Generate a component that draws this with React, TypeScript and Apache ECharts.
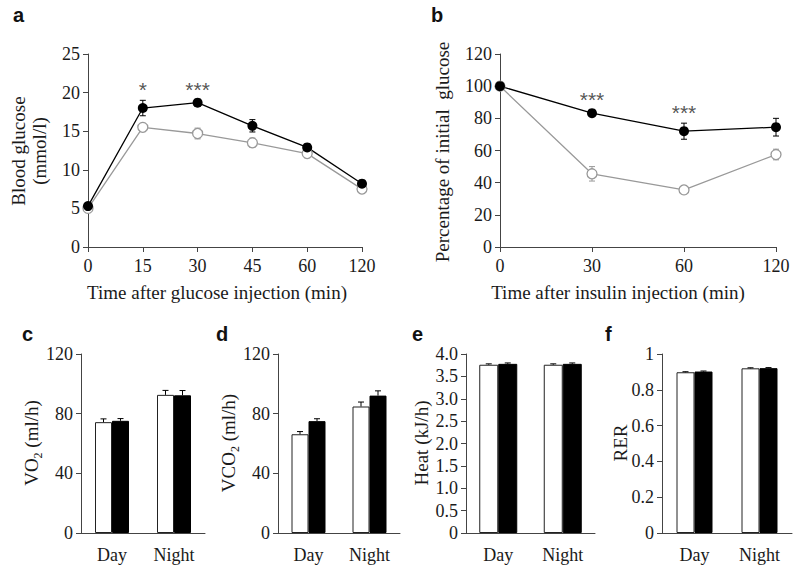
import React, { useEffect, useRef } from "react";
import * as echarts from "echarts";

// ---------- Data ----------
const catsA = ["0", "15", "30", "45", "60", "120"];
const filledA = [5.3, 18.0, 18.7, 15.7, 12.9, 8.2];
const filledAErr = [0.3, 1.0, 0.4, 0.8, 0.4, 0.3];
const openA = [5.0, 15.5, 14.7, 13.5, 12.1, 7.5];
const openAErr = [0.2, 0.4, 0.7, 0.6, 0.3, 0.2];
const sigA = ["", "*", "***", "", "", ""];

const catsB = ["0", "30", "60", "120"];
const filledB = [100, 83.2, 72.0, 74.5];
const filledBErr = [0.8, 2.0, 5.0, 5.5];
const openB = [100, 45.5, 35.5, 57.5];
const openBErr = [0.8, 4.5, 1.0, 3.3];
const sigB = ["", "***", "***", ""];

const barCats = ["Day", "Night"];
const vo2Open = [74.3, 92.6];
const vo2OpenErr = [2.2, 3.0];
const vo2Filled = [75.2, 92.3];
const vo2FilledErr = [1.5, 3.2];

const vco2Open = [66.2, 84.8];
const vco2OpenErr = [1.8, 3.0];
const vco2Filled = [75.0, 92.1];
const vco2FilledErr = [1.6, 3.2];

const heatOpen = [3.76, 3.76];
const heatOpenErr = [0.02, 0.02];
const heatFilled = [3.78, 3.78];
const heatFilledErr = [0.02, 0.02];

const rerOpen = [0.898, 0.92];
const rerOpenErr = [0.003, 0.003];
const rerFilled = [0.902, 0.921];
const rerFilledErr = [0.003, 0.003];

const titlesY = ["Blood glucose\n(mmol/l)", "Percentage of initial  glucose", "VO{sub|2} (ml/h)", "VCO{sub|2} (ml/h)", "Heat (kJ/h)", "RER"];
const titlesX = ["Time after glucose injection (min)", "Time after insulin injection (min)"];
const panelLetters = ["a", "b", "c", "d", "e", "f"];

// ---------- Styles ----------
const SERIF = "Liberation Serif";
const SANS = "Liberation Sans";
const AXIS = "#444444";
const GRAY = "#999999";
const TXT = "#1a1a1a";

function errSeries(
  xi: number,
  means: number[],
  errs: number[],
  color: string,
  offset: number,
  upOnly: boolean,
  z: number
) {
  return {
    type: "custom",
    xAxisIndex: xi,
    yAxisIndex: xi,
    z,
    silent: true,
    encode: { x: 0, y: [1, 2] },
    data: means.map((m, i) => [i, upOnly ? m : m - errs[i], m + errs[i]]),
    renderItem: (_p: any, api: any) => {
      const lo = api.coord([api.value(0), api.value(1)]);
      const hi = api.coord([api.value(0), api.value(2)]);
      const x = lo[0] + offset;
      const cw = 3;
      const st = { stroke: color, lineWidth: 1 };
      const ch: any[] = [
        { type: "line", shape: { x1: x, y1: lo[1], x2: x, y2: hi[1] }, style: st },
        { type: "line", shape: { x1: x - cw, y1: hi[1], x2: x + cw, y2: hi[1] }, style: st },
      ];
      if (!upOnly)
        ch.push({ type: "line", shape: { x1: x - cw, y1: lo[1], x2: x + cw, y2: lo[1] }, style: st });
      return { type: "group", children: ch };
    },
  };
}

function sigSeries(xi: number, sig: string[], means: number[], errs: number[]) {
  return {
    type: "scatter",
    xAxisIndex: xi,
    yAxisIndex: xi,
    symbolSize: 0,
    silent: true,
    z: 5,
    data: sig
      .map((s, i) => (s ? { value: [i, means[i] + errs[i]], label: { formatter: s } } : null))
      .filter(Boolean),
    label: {
      show: true,
      position: "top",
      distance: 0,
      fontSize: 21,
      fontFamily: SANS,
      color: "#2a2a2a",
    },
  };
}

function lineSeries(xi: number, data: number[], filled: boolean) {
  return {
    type: "line",
    xAxisIndex: xi,
    yAxisIndex: xi,
    data,
    z: 3,
    symbol: "circle",
    symbolSize: 10,
    lineStyle: { color: filled ? "#000" : GRAY, width: 1.3 },
    itemStyle: filled
      ? { color: "#000", borderColor: "#000", borderWidth: 0 }
      : { color: "#fff", borderColor: GRAY, borderWidth: 1.3 },
  };
}

function barSeries(xi: number, data: number[], filled: boolean, bw: number) {
  return {
    type: "bar",
    xAxisIndex: xi,
    yAxisIndex: xi,
    data,
    barWidth: bw,
    barGap: "0%",
    z: 2,
    itemStyle: filled
      ? { color: "#000", borderColor: "#000", borderWidth: 1 }
      : { color: "#fff", borderColor: "#222", borderWidth: 1 },
  };
}

function catAxis(gi: number, cats: string[], lineChart: boolean) {
  return {
    type: "category",
    gridIndex: gi,
    data: cats,
    boundaryGap: !lineChart,
    axisLine: { lineStyle: { color: AXIS, width: 1 } },
    axisTick: { show: lineChart, length: 5, alignWithLabel: true, lineStyle: { color: AXIS } },
    axisLabel: {
      interval: 0,
      fontFamily: SERIF,
      fontSize: 18,
      color: TXT,
      margin: lineChart ? 10 : 13,
    },
  };
}

function valAxis(gi: number, max: number, interval: number, fmt?: (v: number) => string) {
  return {
    type: "value",
    gridIndex: gi,
    min: 0,
    max,
    interval,
    splitLine: { show: false },
    axisLine: { show: true, lineStyle: { color: AXIS, width: 1 } },
    axisTick: { show: true, length: 5, lineStyle: { color: AXIS } },
    axisLabel: {
      fontFamily: SERIF,
      fontSize: 18,
      color: TXT,
      margin: 8,
      formatter: fmt || ((v: number) => String(v)),
    },
  };
}

const subRich = {
  sub: { fontFamily: SERIF, fontSize: 12, fill: TXT, verticalAlign: "bottom", lineHeight: 26 },
};

export default function App() {
  const ref = useRef<HTMLDivElement>(null);
  useEffect(() => {
    if (!ref.current) return;
    const chart = echarts.init(ref.current, null, { renderer: "svg" });
    const bw = [17, 17, 19, 18];
    const yTitlePos = [
      [28.5, 151],
      [442, 152],
      [31, 443],
      [228, 443],
      [421, 443],
      [620, 443],
    ];
    const xTitlePos = [
      [217, 292],
      [618, 292],
    ];
    const letterPos = [
      [13, 5],
      [431, 5],
      [22, 324],
      [216, 324],
      [412, 324],
      [605, 324],
    ];
    const graphic: any[] = [];
    titlesY.forEach((t, i) =>
      graphic.push({
        type: "text",
        x: yTitlePos[i][0],
        y: yTitlePos[i][1],
        rotation: Math.PI / 2,
        silent: true,
        style: {
          text: t,
          fontFamily: SERIF,
          fontSize: 19,
          lineHeight: 21,
          fill: TXT,
          align: "center",
          verticalAlign: "middle",
          rich: subRich,
        },
      })
    );
    titlesX.forEach((t, i) =>
      graphic.push({
        type: "text",
        x: xTitlePos[i][0],
        y: xTitlePos[i][1],
        silent: true,
        style: {
          text: t,
          fontFamily: SERIF,
          fontSize: 19,
          fill: TXT,
          align: "center",
          verticalAlign: "middle",
        },
      })
    );
    panelLetters.forEach((t, i) =>
      graphic.push({
        type: "text",
        left: letterPos[i][0],
        top: letterPos[i][1],
        silent: true,
        style: { text: t, fontFamily: SANS, fontWeight: "bold", fontSize: 20, fill: "#111" },
      })
    );

    const option: any = {
      animation: false,
      backgroundColor: "#fff",
      grid: [
        { left: 88, top: 54, width: 274, height: 193 },
        { left: 500, top: 54, width: 276, height: 193 },
        { left: 81, top: 354, width: 124, height: 179 },
        { left: 278, top: 354, width: 122, height: 179 },
        { left: 466, top: 354, width: 129, height: 179 },
        { left: 662, top: 354, width: 130, height: 179 },
      ],
      xAxis: [
        catAxis(0, catsA, true),
        catAxis(1, catsB, true),
        catAxis(2, barCats, false),
        catAxis(3, barCats, false),
        catAxis(4, barCats, false),
        catAxis(5, barCats, false),
      ],
      yAxis: [
        valAxis(0, 25, 5),
        valAxis(1, 120, 20),
        valAxis(2, 120, 40),
        valAxis(3, 120, 40),
        valAxis(4, 4, 0.5, (v: number) => (v === 0 ? "0" : v.toFixed(1))),
        valAxis(5, 1, 0.2, (v: number) => (v === 0 ? "0" : String(+v.toFixed(1)))),
      ],
      series: [
        // panel a
        errSeries(0, openA, openAErr, GRAY, 0, false, 1),
        errSeries(0, filledA, filledAErr, "#000", 0, false, 1),
        lineSeries(0, openA, false),
        lineSeries(0, filledA, true),
        sigSeries(0, sigA, filledA, filledAErr),
        // panel b
        errSeries(1, openB, openBErr, GRAY, 0, false, 1),
        errSeries(1, filledB, filledBErr, "#000", 0, false, 1),
        lineSeries(1, openB, false),
        lineSeries(1, filledB, true),
        sigSeries(1, sigB, filledB, filledBErr),
        // panel c
        barSeries(2, vo2Open, false, bw[0]),
        barSeries(2, vo2Filled, true, bw[0]),
        errSeries(2, vo2Open, vo2OpenErr, "#000", -bw[0] / 2, true, 4),
        errSeries(2, vo2Filled, vo2FilledErr, "#000", bw[0] / 2, true, 4),
        // panel d
        barSeries(3, vco2Open, false, bw[1]),
        barSeries(3, vco2Filled, true, bw[1]),
        errSeries(3, vco2Open, vco2OpenErr, "#000", -bw[1] / 2, true, 4),
        errSeries(3, vco2Filled, vco2FilledErr, "#000", bw[1] / 2, true, 4),
        // panel e
        barSeries(4, heatOpen, false, bw[2]),
        barSeries(4, heatFilled, true, bw[2]),
        errSeries(4, heatOpen, heatOpenErr, "#000", -bw[2] / 2, true, 4),
        errSeries(4, heatFilled, heatFilledErr, "#000", bw[2] / 2, true, 4),
        // panel f
        barSeries(5, rerOpen, false, bw[3]),
        barSeries(5, rerFilled, true, bw[3]),
        errSeries(5, rerOpen, rerOpenErr, "#000", -bw[3] / 2, true, 4),
        errSeries(5, rerFilled, rerFilledErr, "#000", bw[3] / 2, true, 4),
      ],
      graphic,
    };
    chart.setOption(option);
    return () => chart.dispose();
  }, []);
  return (
    <div
      ref={ref}
      style={{ position: "absolute", left: 0, top: 0, width: 800, height: 571, background: "#fff" }}
    />
  );
}
